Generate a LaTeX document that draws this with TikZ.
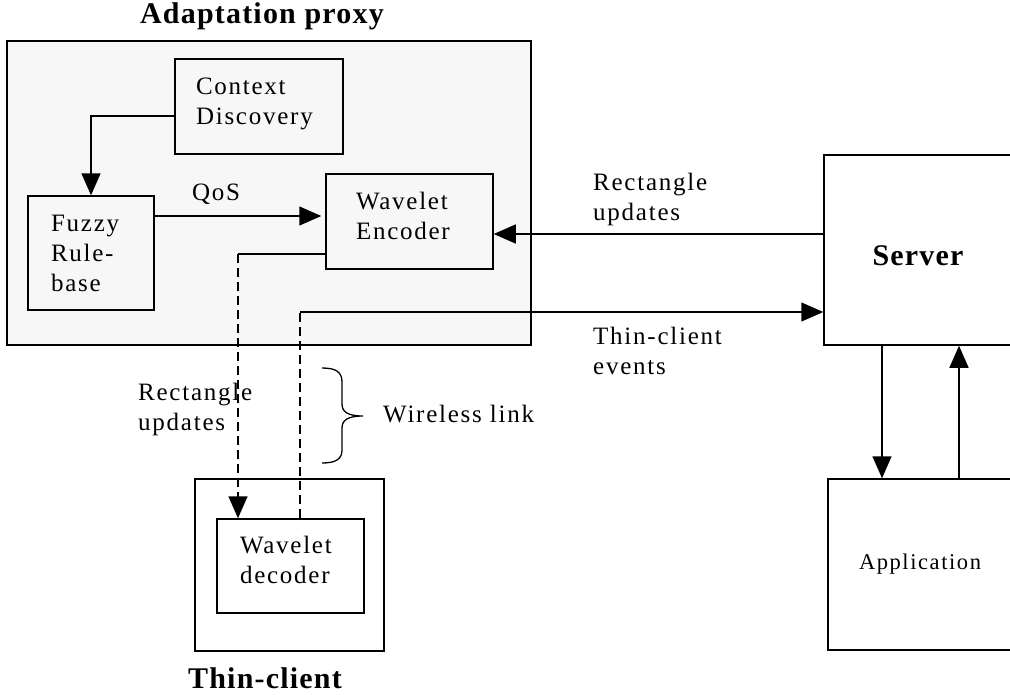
\documentclass[tikz,border=0pt]{standalone}
\usepackage{fontspec}
\setmainfont{Liberation Serif}[LetterSpace=4]
\newfontfamily\lblfont{Liberation Serif}[LetterSpace=7]
\usetikzlibrary{arrows.meta}
\definecolor{proxybg}{HTML}{F7F7F7}

\begin{document}
\begin{tikzpicture}[x=1pt,y=-1pt,
    box/.style={draw, line width=1.5pt, align=left, inner ysep=0pt},
    lbl/.style={font=\lblfont\fontsize{25}{30}\selectfont},
    ttl/.style={font=\bfseries\fontsize{30}{36}\selectfont},
    arr/.style={line width=1.5pt, -{Triangle[length=22pt,width=19pt]}},
    dsh/.style={line width=1.5pt, dash pattern=on 9pt off 5pt}]
    \useasboundingbox (0,0) rectangle (1010,694);
    %
    \node[box, fill=proxybg, minimum width=524pt, minimum height=304pt] (px) at (269,193) {};
    \node[ttl] (pxt) at (262,16) {Adaptation proxy};
    \node[box, lbl, text width=126pt, inner xsep=21pt, minimum height=95pt, text depth=40pt] (cd) at (259,106.5) {Context\\Discovery};
    \node[box, lbl, text width=80pt, inner xsep=23pt, minimum height=114pt] (fz) at (91,253) {Fuzzy\\Rule-\\base};
    \node[box, lbl, text width=107pt, inner xsep=30pt, minimum height=95pt, text depth=42pt] (we) at (409.5,221.5) {Wavelet\\Encoder};
    %
    \node[box, minimum width=189pt, minimum height=172pt] (tc) at (289.5,565) {};
    \node[box, lbl, text width=101pt, inner xsep=23pt, minimum height=94pt, text depth=42pt] (dec) at (290.5,566) {Wavelet\\decoder};
    \node[ttl] (tct) at (265,678) {Thin-client};
    %
    \node[box, ttl, minimum width=188pt, minimum height=190pt, text height=32pt] (srv) at (918,250) {Server};
    \node[box, font=\lblfont\fontsize{22.5}{28}\selectfont, minimum width=184pt, minimum height=171pt] (app) at (920,564.5) {Application};
    %
    \node[lbl, inner sep=0pt] (qos) at (216,194) {QoS};
    \node[lbl, inner sep=0pt, anchor=west, align=left] (rur) at (593,199) {Rectangle\\updates};
    \node[lbl, inner sep=0pt, anchor=west, align=left] (tce) at (593,351) {Thin-client\\events};
    \node[lbl, inner sep=0pt, anchor=west, align=left] (rul) at (138,409) {Rectangle\\updates};
    \node[lbl, inner sep=0pt, anchor=west] (wl) at (383,414) {Wireless link};
    %
    \coordinate (rc) at (238,254);
    \coordinate (ev) at (300,312);
    \draw[arr] ([yshift=-9.5pt]cd.west) -| (fz.north);
    \draw[arr, shorten >=4pt] ([yshift=37pt]fz.east) -- ([yshift=37pt]fz.east -| we.west);
    \draw[arr] ([yshift=16pt]srv.west) -- ([yshift=16pt]srv.west -| we.east);
    \draw[line width=1.5pt] ([yshift=-32.5pt]we.west) -- (rc);
    \draw[dsh, arr] (rc) -- (rc |- dec.north);
    \draw[dsh] ([xshift=9.5pt]dec.north) -- (ev);
    \draw[arr] (ev) -- (ev -| srv.west);
    \draw[arr] ([xshift=-36pt]srv.south) -- ([xshift=-36pt]srv.south |- app.north);
    \draw[arr] ([xshift=39pt]app.north) -- ([xshift=39pt]app.north |- srv.south);
    %
    \draw[line width=1.3pt] (322,368) .. controls (336,368) and (342,372) .. (342,382) -- (342,404)
        .. controls (342,412) and (348,416) .. (363,416) .. controls (348,416) and (342,420) .. (342,428)
        -- (342,450) .. controls (342,459) and (336,463) .. (322,463);
\end{tikzpicture}
\end{document}
